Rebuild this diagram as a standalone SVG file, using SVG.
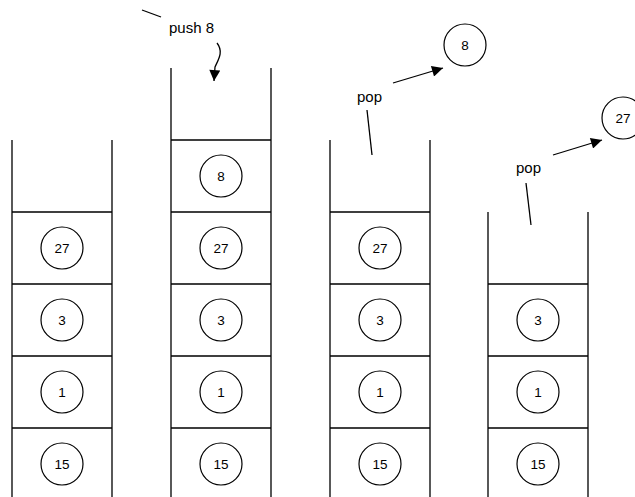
<svg xmlns="http://www.w3.org/2000/svg" width="635" height="497" viewBox="0 0 635 497">
  <defs>
    <marker id="arrowBig" viewBox="0 0 10 10" refX="10" refY="5" markerWidth="15" markerHeight="11" markerUnits="userSpaceOnUse" orient="auto">
      <path d="M0,0 L10,5 L0,10 Z" fill="#000"/>
    </marker>
  </defs>
  <style>
    .wall { stroke: #000; stroke-width: 1.3; fill: none; }
    .item circle { fill: #fff; stroke: #000; stroke-width: 1.2; }
    .num { font-family: "Liberation Sans", Arial, sans-serif; font-size: 13.5px; text-anchor: middle; dominant-baseline: central; fill: #000; }
    .lbl { font-family: "Liberation Sans", Arial, sans-serif; font-size: 15px; fill: #000; }
    .conn { stroke: #000; stroke-width: 1.3; fill: none; }
  </style>
  <rect width="635" height="497" fill="#fff"/>

  <!-- stack 1 -->
  <g id="stack1">
    <path class="wall" d="M12,140 V497 M112,140 V497 M12,212 H112 M12,284 H112 M12,356 H112 M12,428 H112"/>
    <g class="item"><circle cx="62" cy="248" r="21"/><text class="num" x="62" y="248">27</text></g>
    <g class="item"><circle cx="62" cy="320" r="21"/><text class="num" x="62" y="320">3</text></g>
    <g class="item"><circle cx="62" cy="392" r="21"/><text class="num" x="62" y="392">1</text></g>
    <g class="item"><circle cx="62" cy="464" r="21"/><text class="num" x="62" y="464">15</text></g>
  </g>

  <!-- stack 2 -->
  <g id="stack2">
    <path class="wall" d="M171,68 V497 M271,68 V497 M171,140 H271 M171,212 H271 M171,284 H271 M171,356 H271 M171,428 H271"/>
    <g class="item"><circle cx="221" cy="176" r="21"/><text class="num" x="221" y="176">8</text></g>
    <g class="item"><circle cx="221" cy="248" r="21"/><text class="num" x="221" y="248">27</text></g>
    <g class="item"><circle cx="221" cy="320" r="21"/><text class="num" x="221" y="320">3</text></g>
    <g class="item"><circle cx="221" cy="392" r="21"/><text class="num" x="221" y="392">1</text></g>
    <g class="item"><circle cx="221" cy="464" r="21"/><text class="num" x="221" y="464">15</text></g>
  </g>

  <!-- stack 3 -->
  <g id="stack3">
    <path class="wall" d="M330,140 V497 M430,140 V497 M330,212 H430 M330,284 H430 M330,356 H430 M330,428 H430"/>
    <g class="item"><circle cx="380" cy="248" r="21"/><text class="num" x="380" y="248">27</text></g>
    <g class="item"><circle cx="380" cy="320" r="21"/><text class="num" x="380" y="320">3</text></g>
    <g class="item"><circle cx="380" cy="392" r="21"/><text class="num" x="380" y="392">1</text></g>
    <g class="item"><circle cx="380" cy="464" r="21"/><text class="num" x="380" y="464">15</text></g>
  </g>

  <!-- stack 4 -->
  <g id="stack4">
    <path class="wall" d="M488,212 V497 M588,212 V497 M488,284 H588 M488,356 H588 M488,428 H588"/>
    <g class="item"><circle cx="538" cy="320" r="21"/><text class="num" x="538" y="320">3</text></g>
    <g class="item"><circle cx="538" cy="392" r="21"/><text class="num" x="538" y="392">1</text></g>
    <g class="item"><circle cx="538" cy="464" r="21"/><text class="num" x="538" y="464">15</text></g>
  </g>

  <!-- popped values -->
  <g id="popped8" class="item"><circle cx="465" cy="45" r="21"/><text class="num" x="465" y="45">8</text></g>
  <g id="popped27" class="item"><circle cx="623" cy="118" r="21"/><text class="num" x="623" y="118">27</text></g>

  <!-- labels -->
  <g id="labels">
    <text class="lbl" x="169" y="33">push 8</text>
    <text class="lbl" x="357" y="102">pop</text>
    <text class="lbl" x="516" y="173">pop</text>
  </g>

  <!-- connectors -->
  <g id="connectors">
    <line class="conn" x1="142" y1="10" x2="161" y2="17"/>
    <path class="conn" d="M217,43 C224,52 218,60 215,67 L214,81" marker-end="url(#arrowBig)"/>
    <line class="conn" x1="367" y1="110" x2="372" y2="155"/>
    <line class="conn" x1="393" y1="83" x2="443" y2="68" marker-end="url(#arrowBig)"/>
    <line class="conn" x1="526" y1="183" x2="531" y2="225"/>
    <line class="conn" x1="553" y1="155" x2="602" y2="140" marker-end="url(#arrowBig)"/>
  </g>
</svg>
